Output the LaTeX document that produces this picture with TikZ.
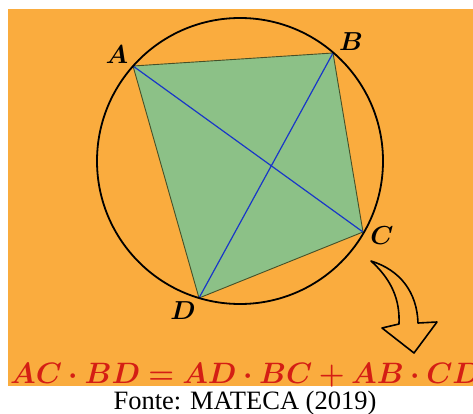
\RequirePackage{fix-cm}
\documentclass[tikz,border=0pt]{standalone}
\usepackage{bm}
\usepackage{fontspec}
\newfontfamily\capfont{Liberation Serif}
\definecolor{bgorange}{RGB}{250,172,62}
\definecolor{quadgreen}{RGB}{140,193,135}
\definecolor{diagblue}{RGB}{25,55,200}
\definecolor{eqred}{RGB}{212,30,20}
\definecolor{edgecol}{RGB}{70,80,40}
\tikzset{
  ptlabel/.style={font=\fontsize{26}{28}\selectfont, inner sep=0pt},
  diag/.style={draw=diagblue, line width=1.2pt},
  edge/.style={draw=edgecol, line width=0.9pt},
}
\begin{document}
\begin{tikzpicture}[x=1pt,y=-1pt]
\useasboundingbox (0,0) rectangle (473,414);
\fill[white] (0,0) rectangle (473,414);
\fill[bgorange] (8,9) rectangle (473,386);
% points
\coordinate (A) at (133,66);
\coordinate (B) at (333,53);
\coordinate (C) at (363,232);
\coordinate (D) at (199,298);
\coordinate (O) at (240,161);
\fill[quadgreen] (A) -- (B) -- (C) -- (D) -- cycle;
\draw[edge] (A) -- (B) -- (C) -- (D) -- cycle;
\draw[diag] (A) -- (C);
\draw[diag] (B) -- (D);
\draw[black, line width=1.8pt] (O) circle[radius=143];
% labels
\node[ptlabel] (lA) at (117,55) {$\bm{A}$};
\node[ptlabel] (lB) at (351,42) {$\bm{B}$};
\node[ptlabel] (lC) at (382,236) {$\bm{C}$};
\node[ptlabel] (lD) at (183,311) {$\bm{D}$};
% arrow
\draw[black, line width=1.6pt, line join=round, fill=bgorange]
  (371,261) .. controls (392,280) and (400,300) .. (399,324)
  -- (382,328) -- (414,353) -- (437,322) -- (418,323)
  .. controls (417,292) and (400,270) .. (371,261) -- cycle;
% equation
\node[anchor=base west, inner sep=0pt, text=eqred, font=\fontsize{29.5}{31}\selectfont] (eq) at (10,383)
  {$\bm{AC\cdot BD = AD\cdot BC + AB\cdot CD}$};
% caption
\node[anchor=base, inner sep=0pt, font=\capfont\fontsize{26.5}{28}\selectfont] (cap) at (245,409) {Fonte: MATECA (2019)};
\end{tikzpicture}
\end{document}
